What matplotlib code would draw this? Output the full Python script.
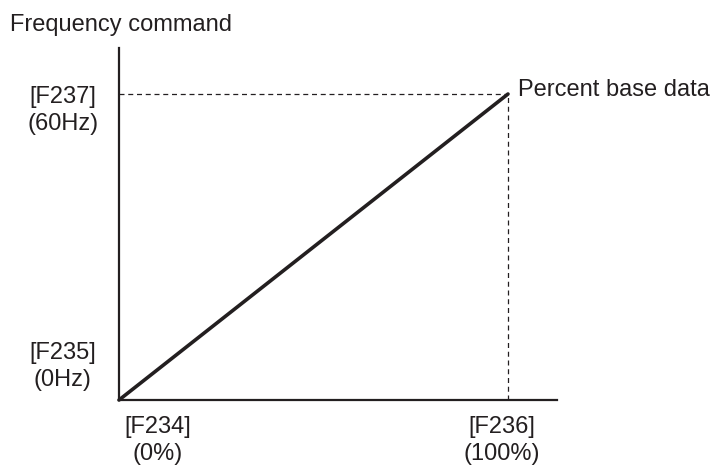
import matplotlib.pyplot as plt

plt.rcParams['font.family'] = ['Liberation Sans', 'DejaVu Sans']

# Data: percent input -> frequency command
percent = [0, 100]
freq = [0, 60]

x_labels = ['[F234]\n(0%)', '[F236]\n(100%)']
y_labels = ['[F235]\n(0Hz)', '[F237]\n(60Hz)']
y_title = 'Frequency command'
point_label = 'Percent base data'

W, H = 715, 467
fig = plt.figure(figsize=(W / 100, H / 100), dpi=100)

# axes placed by pixel position of the origin and the 100% / 60Hz point
x0, x1 = 119, 508
y0, y1 = 400, 94
xmax_px, ymax_px = 557, 48
ax = fig.add_axes([x0 / W, (H - y0) / H, (xmax_px - x0) / W, (y0 - ymax_px) / H])
ax.set_xlim(0, percent[1] * (xmax_px - x0) / (x1 - x0))
ax.set_ylim(0, freq[1] * (y0 - ymax_px) / (y0 - y1))

ink = '#231f20'
for s in ['top', 'right']:
    ax.spines[s].set_visible(False)
for s in ['left', 'bottom']:
    ax.spines[s].set_linewidth(1.6)
    ax.spines[s].set_color(ink)
ax.set_xticks([])
ax.set_yticks([])

ax.plot(percent, freq, color=ink, lw=2.6, solid_capstyle='round', clip_on=False)
ax.plot([0, percent[1]], [freq[1], freq[1]], color=ink, lw=0.9, ls=(0, (4, 3)))
ax.plot([percent[1], percent[1]], [0, freq[1]], color=ink, lw=0.9, ls=(0, (4, 3)))

fs = 17
ls = 1.3
ax.text(percent[0] + 10, -8.0, x_labels[0], ha='center', va='center', fontsize=fs,
        color=ink, linespacing=ls)
ax.text(percent[1] - 1.6, -8.0, x_labels[1], ha='center', va='center', fontsize=fs,
        color=ink, linespacing=ls)
ax.text(-14.5, freq[0] + 6.6, y_labels[0], ha='center', va='center', fontsize=fs,
        color=ink, linespacing=ls)
ax.text(-14.5, freq[1] - 3.3, y_labels[1], ha='center', va='center', fontsize=fs,
        color=ink, linespacing=ls)
ax.text(percent[1] + 2.5, freq[1] + 0.8, point_label, ha='left', va='center',
        fontsize=fs, color=ink)
fig.text(10 / W, (H - 25) / H, y_title, ha='left', va='center', fontsize=fs, color=ink)

fig.savefig('out.png', dpi=100)
